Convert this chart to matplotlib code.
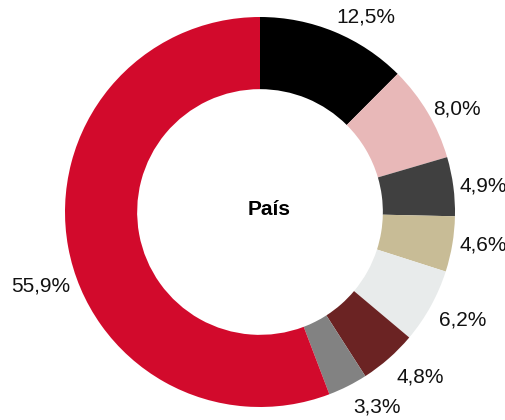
import numpy as np
import matplotlib
matplotlib.use('Agg')
import matplotlib.pyplot as plt

plt.rcParams['font.family'] = ['Liberation Sans', 'DejaVu Sans']

# data
shares = [12.5, 8.0, 4.9, 4.6, 6.2, 4.8, 3.3, 55.9]
colors = ['#000000', '#e8b8b8', '#404040', '#c8bc96',
          '#e8ebeb', '#6b2323', '#828282', '#d20a2c']
labels = [('%.1f%%' % v).replace('.', ',') for v in shares]
title = 'País'

# label angle tweaks (deg), the big slice label sits a bit lower
nudge = [0, 0, 0, 0, 0, 0, 0, 11]

fig = plt.figure(figsize=(5.06, 4.2), dpi=100)
ax = fig.add_axes([0, 0, 1, 1])

R = 195.0  # outer radius in pixels
wedges, _ = ax.pie(shares, colors=colors,
                   startangle=90, counterclock=False, radius=1.0,
                   wedgeprops=dict(width=0.37, edgecolor='none'))

# labels outside the ring, anchored on the slice mid angle
for w, lab, dn in zip(wedges, labels, nudge):
    ang = np.deg2rad((w.theta1 + w.theta2) / 2 + dn)
    c, s = np.cos(ang), np.sin(ang)
    ha = 'left' if c > 0.1 else ('right' if c < -0.1 else 'center')
    va = 'bottom' if s > 0.6 else ('top' if s < -0.4 else 'center')
    r = 1.03 - 0.04 * min(s, 0)
    ax.text(r * c, r * s, lab, ha=ha, va=va,
            fontsize=15, color='#111111')

ax.text(9 / R, -3 / R, title, ha='center', va='baseline',
        fontsize=15, fontweight='bold')

# place the centre of the ring at (260, 212) px
ax.set_xlim(-260 / R, (506 - 260) / R)
ax.set_ylim(-(420 - 212) / R, 212 / R)
ax.set_aspect('equal')
ax.axis('off')

fig.savefig('out.png', dpi=100)
